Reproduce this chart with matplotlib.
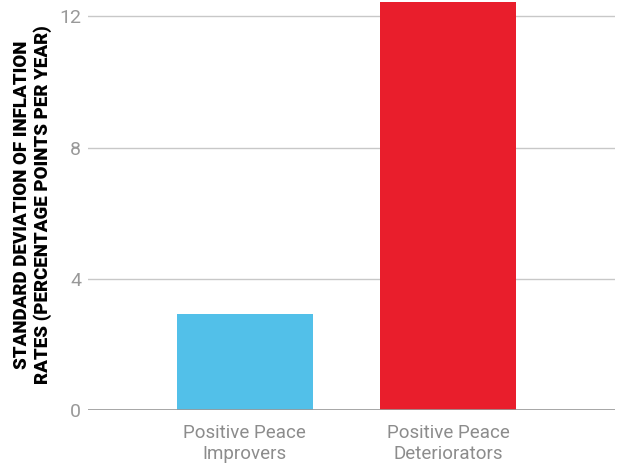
import matplotlib
matplotlib.use("Agg")
from matplotlib import pyplot as plt

groups = ["Positive Peace\nImprovers", "Positive Peace\nDeteriorators"]
values = [2.93, 12.43]
colors = ["#52c0e9", "#e91e2c"]
yticks = [0, 4, 8, 12]

plt.rcParams['font.family'] = ['Roboto', 'DejaVu Sans']

fig = plt.figure(figsize=(6.3, 4.65), dpi=100)
ax = fig.add_axes([0.14, 0.118, 0.836, 0.882])

ax.bar(range(len(groups)), values, width=0.67, color=colors, zorder=3)

ax.set_xlim(-0.77, 1.82)
ax.set_ylim(0, 12.5)
ax.set_yticks(yticks)
ax.set_yticklabels([str(t) for t in yticks])
ax.set_xticks(range(len(groups)))
ax.set_xticklabels(groups)

ax.grid(axis='y', color='#c8c8c8', linewidth=1, zorder=0)
ax.axhline(0, color='#999999', linewidth=1.2, zorder=4)
for s in ax.spines.values():
    s.set_visible(False)
ax.tick_params(axis='y', length=0, pad=5, labelsize=14, labelcolor='#999999')
ax.tick_params(axis='x', length=0, pad=10, labelsize=13.5, labelcolor='#8c8c8c')

ax.set_ylabel("STANDARD DEVIATION OF INFLATION\nRATES (PERCENTAGE POINTS PER YEAR)",
              fontsize=13.5, fontweight='heavy', color='black',
              linespacing=1.2)
ax.yaxis.set_label_coords(-0.068, 0.5)

fig.savefig("out.png")
